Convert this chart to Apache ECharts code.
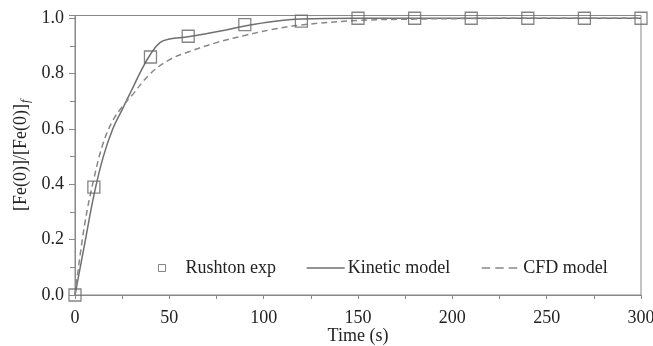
<!DOCTYPE html>
<html>
<head>
<meta charset="utf-8">
<script src="https://cdn.jsdelivr.net/npm/echarts@6/dist/echarts.min.js"></script>
<style>html,body{margin:0;padding:0;background:#fff}#c{width:653px;height:346px}</style>
</head>
<body>
<div id="c"></div>
<script>
var expTime = [0, 10, 40, 60, 90, 120, 150, 180, 210, 240, 270, 300];
var expVal  = [0, 0.39, 0.86, 0.935, 0.977, 0.99, 1.0, 1.0, 1.0, 1.0, 1.0, 1.0];

var kinTime = [0, 5, 10, 15, 20, 25, 30, 35, 40, 45, 50, 60, 70, 80, 90, 105, 120, 150, 180, 240, 300];
var kinVal  = [0, 0.18, 0.36, 0.50, 0.60, 0.67, 0.74, 0.81, 0.87, 0.912, 0.925, 0.933, 0.945, 0.958, 0.972, 0.988, 0.997, 1.0, 1.0, 1.0, 1.0];

var cfdTime = [0, 5, 10, 15, 20, 25, 30, 40, 50, 60, 75, 90, 105, 120, 150, 180, 210, 240, 300];
var cfdVal  = [0, 0.25, 0.42, 0.55, 0.63, 0.68, 0.72, 0.80, 0.85, 0.878, 0.912, 0.938, 0.96, 0.976, 0.992, 0.997, 0.999, 1.0, 1.0];

var xTicks = [0, 50, 100, 150, 200, 250, 300];
var yTicks = [0, 0.2, 0.4, 0.6, 0.8, 1.0];

function pairs(xs, ys) { return xs.map(function (x, i) { return [x, ys[i]]; }); }

var font = 'Liberation Serif, Times New Roman, serif';
var axisCol = '#888';
var txt = '#222';
var fs = 18;
var chart = echarts.init(document.getElementById('c'));
var legendBase = { top: 254, orient: 'horizontal', itemHeight: 1.5 };
var solidIcon = 'path://M0,0h38v1.5h-38z';
var dashIcon = 'path://M0,0h8.5v1.5h-8.5zM13.5,0h8.5v1.5h-8.5zM27,0h8.5v1.5h-8.5z';
chart.setOption({
  animation: false,
  grid: { left: 75, right: 12, top: 15.5, bottom: 51, show: true, borderColor: axisCol, borderWidth: 1,
    containLabel: false, outerBoundsMode: 'none' },
  xAxis: {
    type: 'value', min: 0, max: 300, interval: 50,
    name: 'Time (s)', nameLocation: 'middle', nameGap: 32, nameMoveOverlap: false,
    nameTextStyle: { fontFamily: font, fontSize: fs, color: txt },
    axisLine: { lineStyle: { color: axisCol, width: 1 } },
    axisTick: { show: true, length: 4, lineStyle: { color: axisCol } },
    minorTick: { show: true, splitNumber: 2, length: 4, lineStyle: { color: axisCol } },
    axisLabel: { fontFamily: font, fontSize: fs, color: txt, margin: 14 },
    splitLine: { show: false }
  },
  yAxis: {
    type: 'value', min: 0, max: 1.01, interval: 0.2,
    name: '{n|[Fe(0)]/[Fe(0)]}{s|f}', nameLocation: 'middle', nameGap: 43, nameMoveOverlap: false,
    nameTextStyle: {
      fontFamily: font, fontSize: fs, color: txt,
      rich: {
        n: { fontFamily: font, fontSize: fs, color: txt },
        s: { fontFamily: font, fontSize: 12, fontStyle: 'italic', color: txt, verticalAlign: 'bottom', padding: [9, 0, 0, 1] }
      }
    },
    axisLine: { show: true, lineStyle: { color: axisCol, width: 1 } },
    axisTick: { show: true, length: 6, lineStyle: { color: axisCol } },
    minorTick: { show: true, splitNumber: 2, length: 5, lineStyle: { color: axisCol } },
    axisLabel: { fontFamily: font, fontSize: fs, color: txt, margin: 11, showMaxLabel: false,
      formatter: function (v) { return yTicks.indexOf(Math.round(v * 10) / 10) >= 0 && Math.abs(v * 10 - Math.round(v * 10)) < 1e-6 ? v.toFixed(1) : ''; } },
    splitLine: { show: false }
  },
  legend: [
    Object.assign({}, legendBase, { left: 153, itemWidth: 7, itemHeight: 7,
      data: [{ name: 'Rushton exp', icon: 'rect', itemStyle: { color: '#fff', borderColor: '#666', borderWidth: 1 } }],
      textStyle: { fontFamily: font, fontSize: fs, color: txt, padding: [0, 0, 0, 15] } }),
    Object.assign({}, legendBase, { left: 301.7, itemWidth: 38,
      data: [{ name: 'Kinetic model', icon: solidIcon, itemStyle: { color: '#6f6f6f' } }],
      textStyle: { fontFamily: font, fontSize: fs, color: txt, padding: [0, 0, 0, -2] } }),
    Object.assign({}, legendBase, { left: 476.7, itemWidth: 35.5,
      data: [{ name: 'CFD model', icon: dashIcon, itemStyle: { color: '#888' } }],
      textStyle: { fontFamily: font, fontSize: fs, color: txt, padding: [0, 0, 0, 1] } })
  ],
  series: [
    {
      name: 'Kinetic model', type: 'line', data: pairs(kinTime, kinVal),
      smooth: 0.4, showSymbol: false, symbol: 'none',
      lineStyle: { color: '#6f6f6f', width: 1.5 }, itemStyle: { color: '#6f6f6f' }, z: 2
    },
    {
      name: 'CFD model', type: 'line', data: pairs(cfdTime, cfdVal),
      smooth: 0.4, showSymbol: false, symbol: 'none',
      lineStyle: { color: '#888', width: 1.5, type: [6, 4] }, itemStyle: { color: '#888' }, z: 2
    },
    {
      name: 'Rushton exp', type: 'scatter', data: pairs(expTime, expVal),
      symbol: 'rect', symbolSize: 12, clip: false,
      itemStyle: { color: 'rgba(255,255,255,0)', borderColor: '#666', borderWidth: 1.3 }, z: 3
    }
  ]
});
</script>
</body>
</html>
